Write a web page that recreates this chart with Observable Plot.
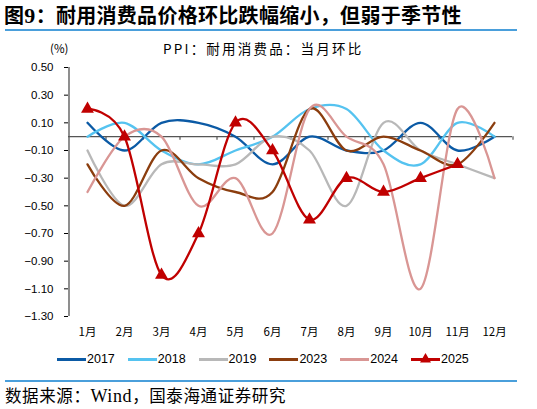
<!DOCTYPE html>
<html><head><meta charset="utf-8">
<script src="https://cdn.jsdelivr.net/npm/d3@7"></script>
<script src="https://cdn.jsdelivr.net/npm/@observablehq/plot@0.6"></script>
<style>
body{margin:0;background:#fff;}
#wrap{position:relative;width:537px;height:409px;overflow:hidden;font-family:"Noto Sans CJK SC","Noto Sans",sans-serif;color:#000;}
#title{position:absolute;left:4px;top:2px;font-size:20px;font-weight:bold;white-space:nowrap;letter-spacing:0.3px;line-height:25px;}
#title .n{font-family:"Liberation Serif",serif;font-weight:bold;font-size:22px;}
.hr{position:absolute;left:5px;width:512px;height:2px;background:#4a9fdb;}
#unit{position:absolute;left:50px;top:40px;font-size:11.5px;line-height:16px;}
#sub{position:absolute;left:163px;top:39px;font-size:13.5px;line-height:18px;letter-spacing:2.2px;white-space:nowrap;}
#chart{position:absolute;left:0;top:40px;}
#legend{position:absolute;left:57px;top:350px;height:18px;}
.item{position:absolute;top:0;height:18px;font-family:"Liberation Sans",Arial,sans-serif;font-size:12.5px;line-height:18px;}
.item .sw{position:absolute;left:0;top:8px;width:29px;height:2.5px;}
.item .tx{position:absolute;left:30px;top:0;}
#foot{position:absolute;left:5px;top:385px;font-size:16.5px;line-height:21px;white-space:nowrap;letter-spacing:0.6px;}
#foot .w{font-family:"Liberation Serif",serif;font-size:18px;}
</style>
</head><body>
<div id="wrap">
  <div id="title">图<span class="n">9</span>：耐用消费品价格环比跌幅缩小，但弱于季节性</div>
  <div class="hr" style="top:29px"></div>
  <div id="unit">(%)</div>
  <div id="sub">PPI：耐用消费品：当月环比</div>
  <div id="chart"></div>
  <div id="legend"></div>
  <div class="hr" style="top:380px"></div>
  <div id="foot">数据来源：<span class="w">Wind</span>，国泰海通证券研究</div>
</div>
<script>
const months = ["1月","2月","3月","4月","5月","6月","7月","8月","9月","10月","11月","12月"];
const yTicks = [0.5, 0.3, 0.1, -0.1, -0.3, -0.5, -0.7, -0.9, -1.1, -1.3];
const seriesNames = ["2017","2018","2019","2023","2024","2025"];
const seriesColors = ["#0b5aa5","#55c3f0","#b8b8b8","#8b3d0e","#d99694","#c00000"];
const v2017 = [0.1,-0.1,0.1,0.1,0.0,-0.2,0.0,-0.1,-0.1,0.1,-0.1,0.0];
const v2018 = [0.0,0.1,-0.1,-0.2,-0.1,0.0,0.2,0.2,-0.1,-0.2,0.1,0.0];
const v2019 = [-0.1,-0.5,-0.2,-0.2,-0.2,0.0,-0.1,-0.5,0.1,-0.1,-0.2,-0.3];
const v2023 = [-0.2,-0.5,-0.1,-0.3,-0.4,-0.4,0.2,-0.1,0.0,-0.1,-0.2,0.1];
const v2024 = [-0.4,0.0,0.0,-0.5,-0.3,-0.7,0.2,0.0,-0.2,-1.1,0.2,-0.3];
const v2025 = [0.2,0.0,-1.0,-0.7,0.1,-0.1,-0.6,-0.3,-0.4,-0.3,-0.2,null];

const allValues = [v2017,v2018,v2019,v2023,v2024,v2025];
const rows = [];
seriesNames.forEach((s, i) => {
  allValues[i].forEach((v, j) => { if (v !== null) rows.push({series: s, month: months[j], value: v}); });
});
const colorOf = Object.fromEntries(seriesNames.map((s,i)=>[s, seriesColors[i]]));
const step = (512 - 68) / 12;

const lineMarks = seriesNames.map(s => Plot.line(rows.filter(r => r.series === s), {
  x: "month", y: "value", stroke: colorOf[s], strokeWidth: 2.3, curve: "cardinal"
}));

const chart = Plot.plot({
  width: 537, height: 300,
  marginLeft: 68, marginRight: 25, marginTop: 27, marginBottom: 24,
  style: {fontFamily: "'Liberation Sans', Arial, sans-serif", fontSize: "11px", color: "#000", background: "transparent"},
  x: {type: "point", domain: months, padding: 0.5, align: 0.5},
  y: {domain: [-1.3, 0.5]},
  marks: [
    Plot.axisY({ticks: yTicks, tickFormat: d3.format(".2f"), tickSize: 4, tickPadding: 11, label: null, fontSize: 11.5}),
    Plot.axisX({tickSize: 0, tickPadding: 11, label: null, fontSize: 11.5, fontFamily: "'Noto Sans CJK SC', sans-serif"}),
    Plot.ruleX([months[0]], {x: d => d, y1: 0.5, y2: -1.3, dx: -step/2, stroke: "#444", strokeWidth: 1.2}),
    Plot.ruleY([0], {stroke: "#555", strokeWidth: 1.3}),
    Plot.ruleX(months, {x: d => d, y1: 0, y2: -0.025, dx: step/2, stroke: "#555", strokeWidth: 1.2}),
    ...lineMarks,
    Plot.dot(rows.filter(r => r.series === "2025"), {x: "month", y: "value", symbol: "triangle", r: 4.8, fill: colorOf["2025"], stroke: "none"})
  ]
});
document.getElementById("chart").appendChild(chart);

const legend = document.getElementById("legend");
seriesNames.forEach((s, i) => {
  const it = document.createElement("div");
  it.className = "item";
  it.style.left = (i * 70.8) + "px";
  let html = `<div class="sw" style="background:${seriesColors[i]}"></div><div class="tx">${s}</div>`;
  if (s === "2025") {
    html += `<svg style="position:absolute;left:9px;top:3px" width="11" height="10"><polygon points="5.5,0 11,9.5 0,9.5" fill="${seriesColors[i]}"/></svg>`;
  }
  it.innerHTML = html;
  legend.appendChild(it);
});
</script>
</body></html>
